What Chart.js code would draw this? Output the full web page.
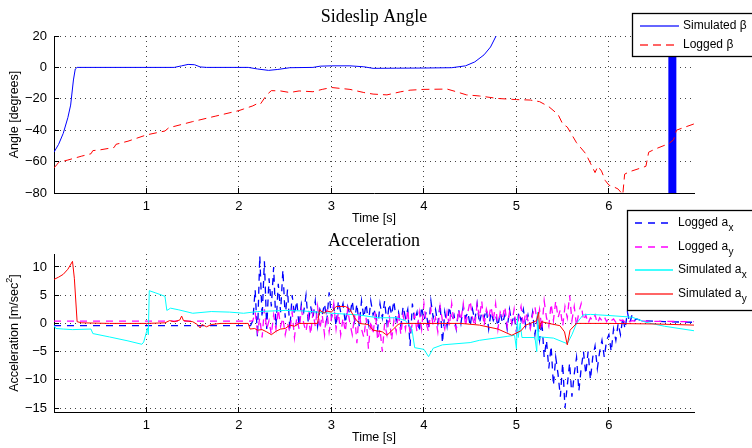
<!DOCTYPE html>
<html>
<head>
<meta charset="utf-8">
<script src="https://cdn.jsdelivr.net/npm/chart.js@4.4.1/dist/chart.umd.min.js"></script>
<style>
  body { margin: 0; background: #fff; }
  #page { position: relative; width: 752px; height: 448px; overflow: hidden; }
  #page canvas { position: absolute; left: 0; }
</style>
</head>
<body>
<div id="page">
  <canvas id="beta_chart" width="752" height="232" style="top:0"></canvas>
  <canvas id="accel_chart" width="752" height="248" style="top:200px"></canvas>
</div>
<script>
// ---- sideslip angle [deg] ----
const betaTime = [0,0.05,0.1,0.15,0.18,0.21,0.23,0.25,1.3,1.38,1.45,1.52,1.58,1.65,2.1,2.2,2.32,2.42,2.55,2.8,2.88,3.0,3.2,3.35,3.45,3.7,4.0,4.3,4.45,4.55,4.65,4.72,4.78,4.82];
const simBeta = [-54,-49,-42,-32,-24,-8,-1,0,0,1,1.9,1.7,0.3,0,0,-1,-1.9,-1.3,-0.2,0,0.8,1.0,1.0,0.4,-0.6,-0.5,-0.4,-0.2,1,3.5,8,13,20,28];
// simulation blows up near the end of the run
const burstTime = [6.686, 6.686];
const burstBeta = [-200, 200];
const logBetaTime = [0,0.03,0.05,0.15,0.3,0.4,0.42,0.5,0.65,0.67,0.8,1.0,1.2,1.24,1.5,1.75,2.0,2.05,2.15,2.2,2.23,2.3,2.35,2.45,2.55,2.65,2.8,2.9,3.0,3.2,3.35,3.45,3.6,3.75,3.85,4.0,4.25,4.35,4.46,4.6,4.8,5.0,5.15,5.25,5.35,5.45,5.5,5.55,5.65,5.75,5.8,5.85,5.88,5.92,5.96,6.0,6.05,6.1,6.15,6.17,6.22,6.4,6.43,6.5,6.65,6.7,6.73,6.8,6.92];
const loggedBeta = [-64,-62,-60.5,-59,-56.5,-55,-53,-52.5,-51,-49,-47,-43,-40.5,-38.5,-34.5,-31,-27.5,-26.5,-24.5,-23,-23.5,-17.5,-14.8,-15,-16,-15,-15.5,-14,-12.8,-14,-16,-17,-17.5,-15.5,-14.5,-14,-13.8,-15.5,-17.5,-18.2,-19.8,-20.5,-20.8,-21.8,-25,-30,-36,-38,-48,-55,-61,-67,-63,-66,-72,-75,-76,-77.5,-81,-68,-66.5,-63,-54,-52,-48.5,-46,-40,-38.5,-36];

// ---- accelerations [m/s^2] ----
const simAxTime = [0,0.02,0.1,0.2,0.4,0.42,0.6,0.8,0.95,0.97,1.0,1.01,1.02,1.03,1.1,1.2,1.22,1.26,1.35,1.5,1.7,1.9,2.05,2.2,2.5,2.7,3.0,3.3,3.5,3.7,3.8,3.87,3.9,4.0,4.05,4.1,4.2,4.5,4.6,4.9,4.98,5.0,5.01,5.02,5.04,5.06,5.2,5.22,5.23,5.24,5.26,5.4,5.55,5.6,5.65,5.72,5.8,6.0,6.25,6.4,6.6,6.92];
const simAx = [-0.4,-0.9,-1.0,-1.1,-1.0,-1.8,-2.4,-3.1,-3.7,-3.3,-1.5,-0.8,-2,5.8,5.4,4.8,2.3,2.7,2.4,1.8,2.1,2.0,1.8,2.1,2.3,2.2,1.8,1.5,1.0,1.0,0.5,-1,-4.3,-4.6,-5.9,-4.4,-3.8,-3.4,-3.0,-2.3,-2.1,-4.5,1,-2.5,0,-2.5,-2.5,-5,2,-3,-2.4,-2.6,-3.6,-2,0,1.5,1.6,1.4,1.1,0.2,-0.5,-1.3];
const simAyTime = [0,0.05,0.1,0.15,0.2,0.22,0.25,0.3,0.6,1.0,1.2,1.25,1.3,1.36,1.38,1.4,1.45,1.5,1.55,1.58,1.6,1.65,1.7,1.8,2.1,2.12,2.17,2.2,2.25,2.3,2.35,2.4,2.45,2.5,2.55,2.6,2.65,2.7,2.85,2.87,2.92,2.95,3.0,3.05,3.15,3.2,3.25,3.3,3.4,3.45,3.55,3.6,3.67,3.72,3.75,4.4,4.6,4.8,4.95,5.05,5.1,5.15,5.22,5.24,5.25,5.27,5.35,5.47,5.52,5.55,5.58,5.65,6.0,6.5,6.92];
const simAy = [7.8,8.2,8.7,9.6,11,8,0.3,0.1,0,0,0.1,0.5,0.3,0.6,1.3,0.5,0.4,0.3,-0.2,-0.8,-0.2,-0.6,-0.2,0,0,-1,-0.9,-1.2,-1.1,-1.5,-2,-1.4,-1,-0.9,-0.3,-0.5,0,0,0,2.4,1.8,2.2,2.0,3,3.0,2.5,1.0,0,-0.2,-1.2,-1.5,-2.1,-1,-0.2,0,0,-0.3,-1,-2.1,-1.3,-0.3,0,0.5,2,-1,0.3,0,-0.4,-1.5,-3.8,-1.2,0,0,-0.1,-0.3];

// logger: flat until the IMU starts streaming, then one sample every 25 ms
const logStart = 2.15, logStep = 0.025;
const loggedAxHead = [[0, -0.4], [2.125, -0.4]];
const loggedAxTail = [[6.35, 0.5], [6.6, 0.3], [6.92, 0.2]];
const loggedAx = [
  0.5, 6, -2.5, 12, 1, 11, -1, 8,
  3, 10, -0.5, 7, 2, 9.5, 1, 6,
  -1, 5, 1.5, 4, -0.5, 3.5, 2, 5,
  0, 3, 1, 4, -0.5, 2.5, 1.5, 3.5,
  0.5, 5.5, 1, 3, -0.5, 4, 2, 3.5,
  0, 3, 1.5, 4, 0.5, 3.5, -0.5, 4,
  1, 3.5, 0, 4, 1.5, 2.5, -1, 3.5,
  1, 4, 0, 3.5, 1.5, 4, 0.5, 2,
  -0.5, 3, 1, 2.5, -4, 3.5, 0.5, 2,
  -1.5, 3, 0.5, 2, -1, 4, 1, 2.5,
  0, 3.5, -3.5, 2, -0.5, 3, 0.5, 1.5,
  -1, 2.5, 0, 3, 1, 2, -0.5, 2.5,
  0.5, 3.5, 0, 2, 1, 2.5, -1, 2,
  0.5, 1.5, -0.5, 2, 0, 1.5, -1, 2.5,
  0, 1.5, -1.5, 2, 0.5, 2.5, -0.5, 1.5,
  -0.5, 2, -2, 1, -3, 0.5, -6, -3,
  -8, -4, -11, -6, -9, -13, -7, -15,
  -11, -7, -13, -9, -6, -12, -8, -5,
  -9, -5, -10, -6, -4, -8, -5, -3,
  -6, -3, -2, -5, -1, -3, 0, -2,
  1, -1, 2, 0, 1.5, 0.5, 0.8
];
const loggedAyHead = [[0, 0.4], [2.125, 0.4]];
const loggedAyTail = [[6.35, 0.4], [6.92, 0.3]];
const loggedAy = [
  0.5, 2, -1.5, 1, -2.5, 2.5, -1, 0.5,
  -2, 1.5, -1, 2.5, -0.5, 1, -2, 0,
  -1.5, 2, -2.5, 1, -1, 2.5, 0, -1.5,
  1.5, -2, 2, -0.5, 3, -1, 1.5, -2,
  2.5, -1.5, 1, 3.5, -1, 2, -2, 1,
  -1.5, 2.5, 0, -2, 1.5, -3.5, 2, -1,
  -2.5, 1, -4.5, 0.5, -2, 2, -3, -1,
  -5, 0, -2, 1.5, -3, 0.5, -1.5, 2,
  -2, 1.5, -1, 2.5, -2, 0, 1.5, -1.5,
  2, -1, 3.5, 0, -1.5, 2.5, -0.5, 1,
  -1.5, 3, 0.5, -1, 2, -0.5, 3.5, 0,
  -1, 2.5, 0.5, 3.5, -0.5, 2, 4, 1,
  -0.5, 3.5, 1, 4, -0.5, 2.5, 1, 3,
  0.5, 3.5, -1, 2, 1, 3, -0.5, 2,
  0, 2.5, -1.5, 1, 3, -0.5, 2, 0.5,
  -1, 1.5, 3, 0, 2.5, -1, 4, 1,
  -0.5, 3.5, 0.5, 4, 1, 2.5, -0.5, 3,
  1, 5, 0.5, 3, -0.5, 2, 3.5, 0.5,
  1.5, 0, 1, 0.5, 1.5, 0, 1, 0.5,
  1.2, 0.3, 1, 0.5, 0.8, 0.2, 0.9, 0.5,
  0.6, 0.2, 0.7, 0.3, 0.5, 0.4, 0.5
];

const timeTicks = [0, 6.92];
const betaRange = [-80, 20];
const accelRange = [-15.7, 12.3];

const SANS = '"Liberation Sans", Arial, sans-serif';
const SERIF = '"Liberation Serif", "Times New Roman", serif';
Chart.defaults.font.family = SANS;
Chart.defaults.color = '#000';

function zip(ts, vs) {
  return ts.map((t, i) => ({x: t, y: vs[i]}));
}

function sampled(head, values, tail) {
  const pts = head.map(p => ({x: p[0], y: p[1]}));
  values.forEach((v, i) => pts.push({x: +(logStart + i * logStep).toFixed(3), y: v}));
  tail.forEach(p => pts.push({x: p[0], y: p[1]}));
  return pts;
}

function series(data, color, extra) {
  return Object.assign({
    data: data, borderColor: color, borderWidth: 1, pointRadius: 0,
    tension: 0, fill: false, clip: 0
  }, extra || {});
}

function minusSign(v) {
  return v < 0 ? '\u2212' + Math.abs(v) : String(v);
}

function axes(yMin, yMax, yStep, xHeight) {
  return {
    x: {
      type: 'linear', min: timeTicks[0], max: timeTicks[1],
      ticks: {stepSize: 1, includeBounds: false, autoSkip: false, maxRotation: 0, padding: 6,
              font: {size: 13}, callback: v => v === 0 ? '' : String(v)},
      grid: {color: '#444', lineWidth: 1, drawTicks: false},
      border: {display: true, color: '#000', width: 1, dash: [1, 4]},
      afterFit: s => { s.height = xHeight; }
    },
    y: {
      type: 'linear', min: yMin, max: yMax,
      ticks: {stepSize: yStep, includeBounds: false, padding: 7, font: {size: 13}, callback: minusSign},
      grid: {color: '#444', lineWidth: 1, drawTicks: false},
      border: {display: true, color: '#000', width: 1, dash: [1, 4]},
      afterFit: s => { s.width = 54; }
    }
  };
}

// tick marks point into the plot, titles and a boxed legend on top
function decorations(cfg) {
  return {
    id: 'decorations',
    afterDraw(chart) {
      const {ctx, chartArea: a, scales: {x, y}} = chart;
      ctx.save();
      ctx.strokeStyle = '#000';
      ctx.lineWidth = 1;
      ctx.setLineDash([]);
      ctx.beginPath();
      x.ticks.forEach(t => {
        const px = Math.round(x.getPixelForValue(t.value) - 0.5) + 0.5;
        if (px - a.left < 2) return;
        ctx.moveTo(px, a.bottom);
        ctx.lineTo(px, a.bottom - 5);
      });
      y.ticks.forEach(t => {
        const py = Math.round(y.getPixelForValue(t.value) - 0.5) + 0.5;
        if (a.bottom - py < 2) return;
        ctx.moveTo(a.left, py);
        ctx.lineTo(a.left + 5, py);
      });
      ctx.stroke();

      const cx = (a.left + a.right) / 2;
      ctx.fillStyle = '#000';
      ctx.textBaseline = 'middle';
      ctx.textAlign = 'center';
      ctx.font = '18px ' + SERIF;
      ctx.fillText(cfg.title, cx, cfg.titleY);
      ctx.font = '12.5px ' + SANS;
      ctx.fillText('Time [s]', cx, cfg.xTitleY);

      // vertical axis title, with optional superscript
      ctx.save();
      ctx.translate(15, (a.top + a.bottom) / 2);
      ctx.rotate(-Math.PI / 2);
      ctx.textAlign = 'left';
      const parts = cfg.yTitle;
      const widths = parts.map(p => { ctx.font = (p.sup ? '9px ' : '12.5px ') + SANS; return ctx.measureText(p.text).width; });
      let px = -widths.reduce((s, w) => s + w, 0) / 2;
      parts.forEach((p, i) => {
        ctx.font = (p.sup ? '9px ' : '12.5px ') + SANS;
        ctx.fillText(p.text, px, p.sup ? -5 : 0);
        px += widths[i];
      });
      ctx.restore();

      const L = cfg.legend;
      ctx.fillStyle = '#fff';
      ctx.fillRect(L.x, L.y, L.w, L.h);
      ctx.strokeStyle = '#000';
      ctx.lineWidth = 1.3;
      ctx.strokeRect(L.x + 0.5, L.y + 0.5, L.w, L.h);
      ctx.textAlign = 'left';
      L.items.forEach((it, i) => {
        const ly = Math.round(L.y + L.first + i * L.step);
        ctx.strokeStyle = it.color;
        ctx.lineWidth = 1.5;
        ctx.setLineDash(it.dash || []);
        ctx.beginPath();
        ctx.moveTo(L.x + 8, ly);
        ctx.lineTo(L.x + L.lineEnd, ly);
        ctx.stroke();
        ctx.setLineDash([]);
        ctx.fillStyle = '#000';
        ctx.font = '12px ' + SANS;
        ctx.fillText(it.text, L.x + L.textX, ly);
        if (it.sub) {
          const w = ctx.measureText(it.text).width;
          ctx.font = '10px ' + SANS;
          ctx.fillText(it.sub, L.x + L.textX + w + 0.5, ly + 5);
        }
      });
      ctx.restore();
    }
  };
}

new Chart(document.getElementById('beta_chart'), {
  type: 'line',
  data: {
    datasets: [
      series(zip(logBetaTime, loggedBeta), '#ff0000', {borderDash: [8, 5], order: 1}),
      series(zip(betaTime, simBeta), '#0000ff', {order: 2}),
      series(zip(burstTime, burstBeta), '#0000ff', {borderWidth: 8, order: 3})
    ]
  },
  options: {
    responsive: false, animation: false, events: [],
    layout: {padding: {left: 0, right: 58, top: 36, bottom: 0}},
    plugins: {legend: {display: false}, title: {display: false}, tooltip: {enabled: false}},
    scales: axes(betaRange[0], betaRange[1], 20, 39)
  },
  plugins: [decorations({
    title: 'Sideslip Angle', titleY: 17, xTitleY: 219,
    yTitle: [{text: 'Angle [degrees]'}],
    legend: {x: 632, y: 13, w: 140, h: 43, first: 13, step: 19, lineEnd: 47, textX: 51,
      items: [
        {text: 'Simulated \u03b2', color: '#3333ff'},
        {text: 'Logged \u03b2', color: '#ff3333', dash: [8, 5]}
      ]}
  })]
});

new Chart(document.getElementById('accel_chart'), {
  type: 'line',
  data: {
    datasets: [
      series(sampled(loggedAxHead, loggedAx, loggedAxTail), '#0000ff', {borderDash: [7, 6], borderWidth: 1.3, order: 4}),
      series(sampled(loggedAyHead, loggedAy, loggedAyTail), '#ff00ff', {borderDash: [7, 6], borderWidth: 1.3, order: 3}),
      series(zip(simAxTime, simAx), '#00ffff', {order: 2}),
      series(zip(simAyTime, simAy), '#ff0000', {order: 1})
    ]
  },
  options: {
    responsive: false, animation: false, events: [],
    layout: {padding: {left: 0, right: 58, top: 54, bottom: 5}},
    plugins: {legend: {display: false}, title: {display: false}, tooltip: {enabled: false}},
    scales: axes(accelRange[0], accelRange[1], 5, 31)
  },
  plugins: [decorations({
    title: 'Acceleration', titleY: 41, xTitleY: 238,
    yTitle: [{text: 'Acceleration [m/sec'}, {text: '2', sup: true}, {text: ']'}],
    legend: {x: 627, y: 10, w: 140, h: 100, first: 13, step: 23.7, lineEnd: 46, textX: 51,
      items: [
        {text: 'Logged a', sub: 'x', color: '#0000ff', dash: [7, 6]},
        {text: 'Logged a', sub: 'y', color: '#ff00ff', dash: [7, 6]},
        {text: 'Simulated a', sub: 'x', color: '#00ffff'},
        {text: 'Simulated a', sub: 'y', color: '#ff3333'}
      ]}
  })]
});
</script>
</body>
</html>
